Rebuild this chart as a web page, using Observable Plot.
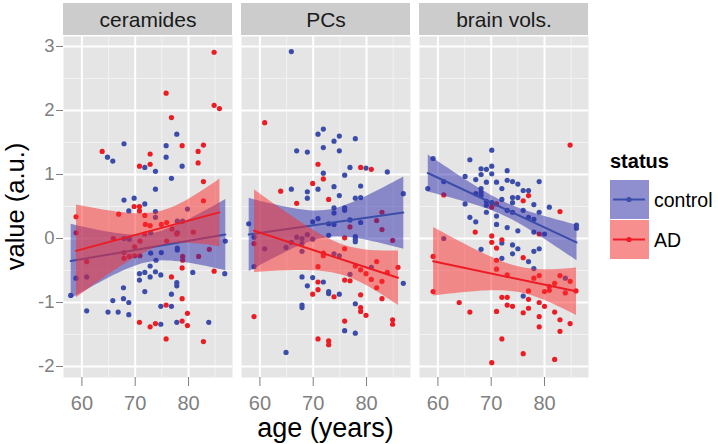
<!DOCTYPE html>
<html><head><meta charset="utf-8">
<script src="https://cdn.jsdelivr.net/npm/d3@7"></script>
<script src="https://cdn.jsdelivr.net/npm/@observablehq/plot@0.6"></script>
<style>html,body{margin:0;padding:0;background:#fff;} svg{display:block;}</style>
</head><body><div id="chart"></div>
<script>
// ---------- data ----------
const facets = ["ceramides", "PCs", "brain vols."];
const statuses = ["control", "AD"];
const xTicks = [60, 70, 80];
const xMinorTicks = [65, 75, 85];
const yTicks = [-2, -1, 0, 1, 2, 3];
const yMinorTicks = [-1.5, -0.5, 0.5, 1.5, 2.5];

// [age, value]
const ceramidesControl = [
  [77.8,1.63],[67.9,1.48],[75.8,1.45],[64.8,1.27],[65.8,1.21],[75.8,1.27],[71.8,1.11],[78.8,1.13],
  [73.8,1.05],[76.8,0.94],[73.8,0.77],[67.9,0.60],[69.8,0.63],[71.8,0.54],
  [68.8,0.43],[73.8,0.42],[73.8,0.33],[79.8,0.46],[77.9,0.27],[78.9,0.27],[72.9,0.09],[77.9,0.09],
  [67.9,0.0],[68.9,-0.01],[60.9,-0.60],
  [72.9,-0.23],[74.9,-0.22],[77.9,-0.18],[77.9,-0.15],[86.9,-0.04],[73.9,-0.34],
  [57.9,-0.89],[58.9,-0.62],[60.9,-1.13],[64.9,-1.15],[65.8,-0.97],[66.8,-1.15],[67.8,-0.77],[67.8,-0.94],
  [68.8,-1.00],[68.8,-1.19],[70.8,-0.55],[70.8,-0.65],[71.8,-0.53],[71.8,-0.83],[72.8,-0.43],[72.8,-0.60],
  [73.8,-0.52],[74.8,-0.57],[74.8,-1.06],[74.8,-1.34],[76.8,-0.87],[76.8,-1.06],[77.8,-0.69],[77.8,-0.74],
  [77.8,-1.31],[80.8,-0.53],[83.8,-1.31],[86.8,-0.55]
];
const ceramidesAD = [
  [84.8,2.91],[75.8,2.27],[84.8,2.08],[85.8,2.03],[76.8,1.89],[63.8,1.36],[78.8,1.45],[82.8,1.46],
  [72.8,1.32],[81.8,1.36],[81.8,1.18],[70.8,1.13],[72.8,1.16],[82.8,0.89],[82.8,0.59],[69.8,0.50],
  [70.8,0.50],[66.9,0.38],[70.8,0.43],[71.8,0.36],[58.9,0.34],[75.9,0.25],[71.9,0.22],[74.9,0.22],
  [76.9,0.15],[80.9,0.10],[58.9,0.09],[65.9,0.0],[69.9,-0.13],[69.9,-0.27],[70.9,-0.27],[78.9,-0.28],
  [60.9,-0.36],[70.8,-1.31],[72.8,-1.38],[73.8,-1.33],[75.8,-1.04],[75.8,-1.57],[76.8,-0.60],[78.8,-0.46],
  [78.8,-0.94],[78.8,-1.29],[79.8,-1.17],[79.8,-1.36],[82.8,-1.61],[84.8,-0.51],[71.8,0.07],[72.8,0.20],
  [77.8,0.07],[67.9,-0.22],[67.9,-0.31],[68.9,-0.28],[70.9,-0.04],[75.9,-0.04],[81.9,-0.28],[83.9,-0.17],
  [78.9,-0.34]
];
const pcsControl = [
  [65.9,2.92],[70.9,1.63],[71.9,1.71],[74.9,1.60],[73.9,1.52],[77.9,1.56],[71.9,1.42],[74.9,1.37],
  [66.9,1.37],[68.9,1.35],[76.9,1.11],[79.9,1.10],[83.9,1.04],[71.9,1.02],[75.9,0.99],[73.9,0.81],
  [78.9,0.82],[65.9,0.77],[68.9,0.73],[70.9,0.77],[74.9,0.67],[68.9,0.63],[77.9,0.63],[78.9,0.64],
  [86.9,0.70],[73.9,0.48],[75.9,0.48],[75.9,0.44],[73.9,0.40],[70.9,0.31],[69.9,0.26],[72.9,0.23],
  [73.9,0.22],[76.9,0.29],[78.9,0.25],[57.9,0.23],[72.9,0.05],[58.9,0.02],[68.9,0.06],[77.9,0.03],
  [77.9,-0.01],[77.9,-0.05],[69.9,-0.01],[66.9,0.02],[67.9,0.0],[65.9,-0.06],[67.9,-0.08],[60.9,-0.16],
  [64.9,-0.14],[67.9,-0.20],[58.9,-0.44],[73.9,-0.24],[74.9,-0.27],[76.9,-0.56],[80.9,-0.45],
  [67.9,-0.60],[69.9,-0.61],[71.9,-0.68],[68.9,-0.74],[72.9,-0.83],[72.9,-0.86],[74.9,-0.87],
  [86.9,-0.70],[77.9,-1.02],[67.9,-1.04],[67.9,-1.08],[75.9,-1.44],[77.9,-1.48],[64.9,-1.78]
];
const pcsAD = [
  [60.9,1.81],[70.9,1.16],[78.9,1.11],[80.9,1.08],[69.9,0.86],[71.9,0.93],[63.9,0.74],[72.9,0.61],
  [66.9,0.55],[82.9,0.41],[81.9,0.28],[76.9,0.18],[82.9,0.14],[84.9,-0.03],[58.9,-0.08],[75.9,0.01],
  [71.9,-0.23],[71.9,-0.27],[75.9,-0.16],[70.9,-0.44],[77.9,-0.43],[78.9,-0.49],[79.9,-0.55],
  [81.9,-0.36],[85.9,-0.45],[83.9,-0.53],[80.9,-0.64],[82.9,-0.67],[70.9,-0.68],[75.9,-0.65],
  [76.9,-0.66],[70.9,-0.80],[69.9,-0.87],[73.9,-0.91],[81.9,-0.77],[82.9,-0.94],[78.9,-0.88],
  [78.9,-1.08],[78.9,-1.14],[79.9,-1.20],[58.9,-1.22],[75.9,-1.29],[84.9,-1.27],[84.9,-1.34],
  [70.9,-1.57],[72.9,-1.60],[72.9,-1.66]
];
const brainControl = [
  [59.1,1.25],[58.1,0.78],[70.1,1.38],[66.0,1.23],[68.1,1.09],[69.1,1.08],[70.1,1.13],[68.1,1.00],
  [70.1,1.01],[73.0,1.06],[65.1,0.97],[67.1,0.92],[69.1,0.88],[71.0,0.88],[73.0,0.91],[74.0,0.89],
  [75.0,0.85],[79.0,0.89],[61.1,0.89],[72.0,0.78],[76.0,0.75],[77.0,0.75],[68.1,0.78],[68.1,0.72],
  [68.1,0.67],[65.1,0.54],[67.1,0.70],[74.0,0.64],[75.0,0.64],[69.1,0.58],[69.1,0.52],[70.1,0.56],
  [72.0,0.61],[74.0,0.56],[78.0,0.53],[80.9,0.49],[76.0,0.44],[73.0,0.44],[74.0,0.41],[69.1,0.41],
  [79.0,0.41],[71.0,0.35],[77.0,0.33],[78.0,0.30],[66.0,0.33],[67.1,0.26],[71.0,0.22],[73.0,0.17],
  [75.0,0.12],[86.0,0.21],[86.0,0.16],[78.0,0.10],[80.0,0.07],[72.0,-0.07],[61.1,0.0],[68.1,-0.17],
  [74.0,-0.10],[75.0,-0.16],[79.0,-0.16],[78.0,-0.20],[72.0,-0.31],[74.0,-0.24],[77.0,-0.36],
  [78.0,-0.47],[76.0,-0.90],[83.9,-0.62]
];
const brainAD = [
  [84.8,1.46],[61.1,0.68],[77.0,0.67],[76.0,0.59],[71.0,0.54],[70.1,0.49],[82.9,0.42],[67.0,0.10],
  [79.0,0.07],[70.1,0.04],[70.1,-0.06],[72.0,-0.02],[71.0,-0.15],[76.0,-0.30],[71.0,-0.34],[59.1,-0.28],
  [71.0,-0.48],[73.0,-0.57],[78.0,-0.62],[79.0,-0.58],[82.9,-0.58],[84.8,-0.67],[81.9,-0.70],
  [80.9,-0.75],[80.9,-0.81],[80.0,-0.83],[83.9,-0.85],[85.9,-0.82],[59.1,-0.83],[77.0,-0.82],
  [72.0,-0.92],[73.0,-0.92],[77.0,-0.95],[64.0,-1.00],[80.0,-1.06],[79.0,-1.00],[73.0,-1.04],
  [74.0,-1.06],[66.0,-1.15],[71.0,-1.14],[76.0,-1.16],[77.0,-1.09],[81.9,-1.15],[79.0,-1.22],
  [82.9,-1.27],[84.8,-1.33],[79.0,-1.38],[82.9,-1.45],[72.0,-1.57],[76.0,-1.80],[81.9,-1.89],[70.1,-1.94]
];

// ---------- table ----------
const sources = [
  ["ceramides", "control", ceramidesControl], ["ceramides", "AD", ceramidesAD],
  ["PCs", "control", pcsControl], ["PCs", "AD", pcsAD],
  ["brain vols.", "control", brainControl], ["brain vols.", "AD", brainAD]
];
const rows = sources.flatMap(([facet, status, pts]) => pts.map(([age, value]) => ({facet, status, age, value})));

// ---------- style ----------
const W = 718, H = 444, mL = 62, mR = 129, mT = 36, mB = 67;
const font = "'Liberation Sans', Arial, Helvetica, sans-serif";
const pointColor = {control: "#3B4DA8", AD: "#EC1C24"};
const bandColor = {control: "#2B2BAB", AD: "#FB2B2B"};
const bandOpacity = 0.5;

const regression = (status) => Plot.linearRegressionY(rows.filter(d => d.status === status), {
  x: "age", y: "value", fx: "facet",
  stroke: pointColor[status], strokeWidth: 2,
  fill: bandColor[status], fillOpacity: bandOpacity
});

const plot = Plot.plot({
  width: W, height: H,
  marginLeft: mL, marginRight: mR, marginTop: mT, marginBottom: mB,
  style: {fontFamily: font, background: "#fff"},
  fx: {domain: facets, paddingInner: 0.05, paddingOuter: 0, axis: null, label: null},
  x: {domain: [56.55, 88.25], label: null},
  y: {domain: [-2.172, 3.156], label: null},
  color: {domain: statuses, range: statuses.map(s => pointColor[s])},
  marks: [
    Plot.frame({fill: "#E5E5E5", stroke: null}),
    Plot.gridX({ticks: xMinorTicks, stroke: "#F2F2F2", strokeOpacity: 1, strokeWidth: 1}),
    Plot.gridY({ticks: yMinorTicks, stroke: "#F2F2F2", strokeOpacity: 1, strokeWidth: 1}),
    Plot.gridX({ticks: xTicks, stroke: "#FFFFFF", strokeOpacity: 1, strokeWidth: 2}),
    Plot.gridY({ticks: yTicks, stroke: "#FFFFFF", strokeOpacity: 1, strokeWidth: 2}),
    Plot.dot(rows, {x: "age", y: "value", fx: "facet", fill: "status", r: 2.6}),
    regression("control"),
    regression("AD"),
    Plot.axisX({ticks: xTicks, tickSize: 9, tickPadding: 9.5, fontSize: 20, color: "#7F7F7F",
                label: null, tickFormat: d => String(d)}),
    Plot.axisY({ticks: yTicks, tickSize: 7, tickPadding: 2, fontSize: 18.5, color: "#7F7F7F",
                label: null, tickFormat: d => String(d)}),
    Plot.text(facets, {fx: d => d, text: d => d, frameAnchor: "top", dy: -16,
                       lineAnchor: "middle", fontSize: 21, fill: "#1A1A1A"})
  ]
});

// ---------- strips, axis titles, legend ----------
const svg = d3.select(plot);
const fxScale = plot.scale("fx");
const stripG = document.createElementNS("http://www.w3.org/2000/svg", "g");
plot.insertBefore(stripG, plot.firstChild ? plot.firstChild.nextSibling : null);
for (const f of facets) {
  d3.select(stripG).append("rect")
    .attr("x", fxScale.apply(f)).attr("width", fxScale.bandwidth)
    .attr("y", mT - 33).attr("height", 32).attr("fill", "#CCCCCC");
}

svg.append("text").attr("x", (mL + W - mR) / 2).attr("y", 437)
  .attr("text-anchor", "middle").attr("font-size", 27).attr("fill", "#000")
  .attr("font-family", font).text("age (years)");
svg.append("text").attr("transform", `translate(24,${(mT + H - mB) / 2}) rotate(-90)`)
  .attr("text-anchor", "middle").attr("font-size", 25.5).attr("fill", "#000")
  .attr("font-family", font).text("value (a.u.)");

const lg = svg.append("g").attr("font-family", font).attr("text-anchor", "start");
lg.append("text").attr("x", 610).attr("y", 168).attr("font-size", 20)
  .attr("font-weight", "bold").attr("fill", "#000").text("status");
statuses.forEach((s, i) => {
  const y0 = 180 + i * 40;
  lg.append("rect").attr("x", 610).attr("y", y0).attr("width", 39).attr("height", 39).attr("fill", "#F2F2F2");
  lg.append("rect").attr("x", 610).attr("y", y0).attr("width", 39).attr("height", 39)
    .attr("fill", bandColor[s]).attr("fill-opacity", bandOpacity);
  lg.append("line").attr("x1", 613).attr("x2", 645).attr("y1", y0 + 19.5).attr("y2", y0 + 19.5)
    .attr("stroke", pointColor[s]).attr("stroke-width", 2);
  lg.append("circle").attr("cx", 629).attr("cy", y0 + 19.5).attr("r", 2.6).attr("fill", pointColor[s]);
  lg.append("text").attr("x", 654).attr("y", y0 + 26.5).attr("font-size", 19.5).attr("fill", "#000").text(s);
});

document.getElementById("chart").appendChild(plot);
</script>
</body></html>
